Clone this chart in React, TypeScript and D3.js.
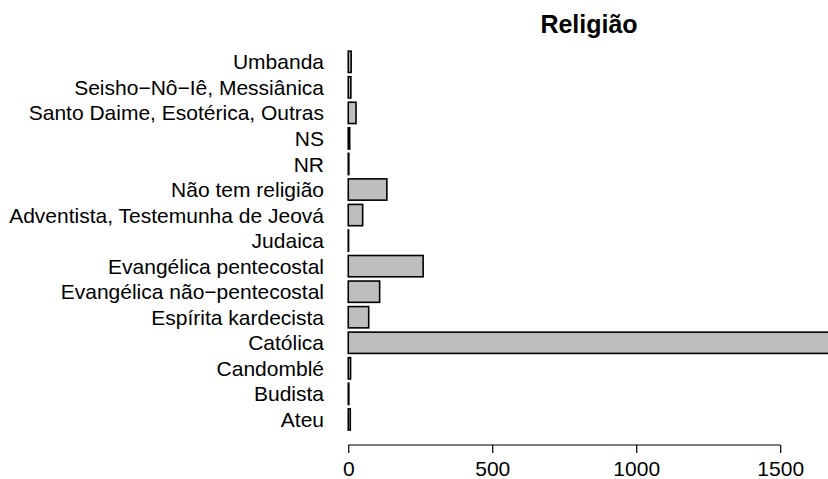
import * as d3 from "d3";
import { useEffect, useRef } from "react";

// categories listed bottom to top, as in the R barplot
const categories = [
  "Ateu",
  "Budista",
  "Candomblé",
  "Católica",
  "Espírita kardecista",
  "Evangélica não−pentecostal",
  "Evangélica pentecostal",
  "Judaica",
  "Adventista, Testemunha de Jeová",
  "Não tem religião",
  "NR",
  "NS",
  "Santo Daime, Esotérica, Outras",
  "Seisho−Nô−Iê, Messiânica",
  "Umbanda",
];
const counts = [7, 2, 8, 1672, 71, 109, 260, 1, 50, 134, 2, 5, 27, 9, 10];
const xTicks = [0, 500, 1000, 1500];
const title = "Religião";

const W = 828;
const H = 479;
const FONT = "'Liberation Sans', Arial, Helvetica, sans-serif";
const FS = 21;

const App = () => {
  const svgRef = useRef<SVGSVGElement>(null);

  useEffect(() => {
    const svg = d3.select(svgRef.current);
    svg.selectAll("*").remove();

    const max = d3.max(counts) as number;
    // R style 4% padding on both sides
    const xScale = d3
      .scaleLinear()
      .domain([-0.04 * max, 1.04 * max])
      .range([329, 849]);

    // bar i spans [0.2 + 1.2i, 1.2 + 1.2i], usr extended 4%
    const n = categories.length;
    const yLo = 0.2;
    const yHi = 1.2 * n;
    const pad = 0.04 * (yHi - yLo);
    const yScale = d3
      .scaleLinear()
      .domain([yLo - pad, yHi + pad])
      .range([445.2, 36]);

    const chart = svg.append("g");

    // bars
    chart
      .selectAll("rect.bar")
      .data(counts)
      .enter()
      .append("rect")
      .attr("class", "bar")
      .attr("x", xScale(0))
      .attr("y", (_, i) => yScale(1.2 + 1.2 * i))
      .attr("width", (d) => xScale(d) - xScale(0))
      .attr("height", (_, i) => yScale(0.2 + 1.2 * i) - yScale(1.2 + 1.2 * i))
      .attr("fill", "#bebebe")
      .attr("stroke", "#000")
      .attr("stroke-width", 1.6);

    // category labels
    chart
      .selectAll("text.cat")
      .data(categories)
      .enter()
      .append("text")
      .attr("class", "cat")
      .attr("x", 324)
      .attr("y", (_, i) => yScale(0.7 + 1.2 * i))
      .attr("dy", "0.36em")
      .attr("text-anchor", "end")
      .attr("font-family", FONT)
      .attr("font-size", FS)
      .attr("fill", "#000")
      .text((d) => d);

    // x axis (R draws the line only between first and last tick)
    const axisY = 445;
    const xAxis = d3
      .axisBottom(xScale)
      .tickValues(xTicks)
      .tickSize(8)
      .tickPadding(4)
      .tickFormat(d3.format("d"));
    const ax = chart
      .append("g")
      .attr("transform", `translate(0,${axisY})`)
      .call(xAxis);
    ax.select(".domain").remove();
    ax.selectAll("line").attr("stroke", "#000").attr("stroke-width", 1.2);
    ax.selectAll("text")
      .attr("font-family", FONT)
      .attr("font-size", FS)
      .attr("fill", "#000")
      .attr("dy", "0")
      .attr("y", 30.5);
    ax.append("line")
      .attr("x1", xScale(xTicks[0]))
      .attr("x2", xScale(xTicks[xTicks.length - 1]))
      .attr("stroke", "#000")
      .attr("stroke-width", 1.2);

    // title
    svg
      .append("text")
      .attr("x", (xScale.range()[0] + xScale.range()[1]) / 2)
      .attr("y", 33)
      .attr("text-anchor", "middle")
      .attr("font-family", FONT)
      .attr("font-weight", "bold")
      .attr("font-size", 25)
      .attr("fill", "#000")
      .text(title);
  }, []);

  return (
    <svg
      ref={svgRef}
      width={W}
      height={H}
      style={{ position: "absolute", left: 0, top: 0, background: "#fff" }}
    />
  );
};

export default App;
